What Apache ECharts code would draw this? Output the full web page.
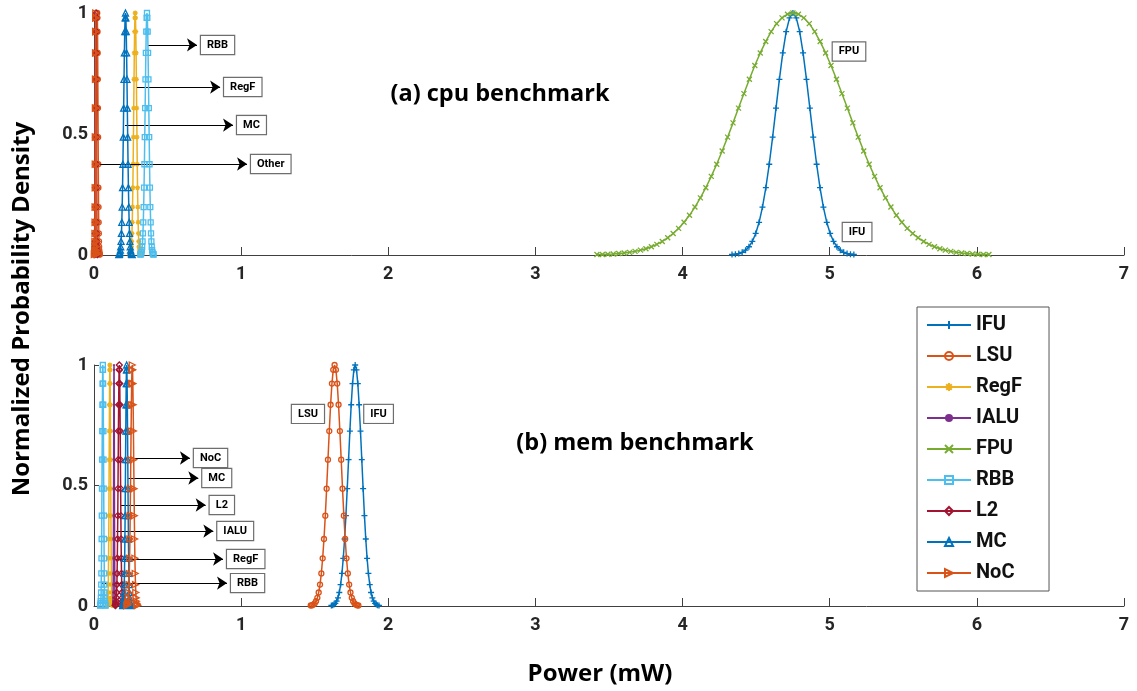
<!DOCTYPE html>
<html><head><meta charset="utf-8">
<script src="https://cdn.jsdelivr.net/npm/echarts@6/dist/echarts.min.js"></script>
<style>html,body{margin:0;padding:0;background:#fff}#c{width:1137px;height:691px}</style>
</head><body><div id="c"></div>
<script>
// ---------- data ----------
const LEGEND_NAMES = ['IFU','LSU','RegF','IALU','FPU','RBB','L2','MC','NoC'];
const X_MIN = 0, X_MAX = 7, X_STEP = 1;
const Y_MIN = 0, Y_MAX = 1, Y_STEP = 0.5;

// normalized density profiles (37 and 73 samples)
const PROFILE37 = [0.002,0.003,0.006,0.011,0.020,0.034,0.056,0.089,0.135,0.198,0.278,0.375,0.487,0.607,0.726,0.835,0.923,0.980,1.000,0.980,0.923,0.835,0.726,0.607,0.487,0.375,0.278,0.198,0.135,0.089,0.056,0.034,0.020,0.011,0.006,0.003,0.002];
const PROFILE73 = [0.002,0.002,0.003,0.004,0.006,0.008,0.011,0.015,0.020,0.026,0.034,0.044,0.056,0.071,0.089,0.110,0.135,0.164,0.198,0.236,0.278,0.325,0.375,0.430,0.487,0.546,0.607,0.667,0.726,0.783,0.835,0.882,0.923,0.956,0.980,0.995,1.000,0.995,0.980,0.956,0.923,0.882,0.835,0.783,0.726,0.667,0.607,0.546,0.487,0.430,0.375,0.325,0.278,0.236,0.198,0.164,0.135,0.110,0.089,0.071,0.056,0.044,0.034,0.026,0.020,0.015,0.011,0.008,0.006,0.004,0.003,0.002,0.002];

// (a) cpu benchmark – power samples (mW)
const cpuIFU_x = [4.336,4.359,4.382,4.405,4.428,4.451,4.474,4.497,4.520,4.543,4.566,4.589,4.612,4.635,4.658,4.681,4.704,4.727,4.750,4.773,4.796,4.819,4.842,4.865,4.888,4.911,4.934,4.957,4.980,5.003,5.026,5.049,5.072,5.095,5.118,5.141,5.164];
const cpuLSU_x = [0.004,0.005,0.006,0.007,0.008,0.009,0.010,0.011,0.012,0.013,0.014,0.015,0.016,0.017,0.018,0.019,0.020,0.021,0.022,0.023,0.024,0.025,0.026,0.027,0.028,0.029,0.030,0.031,0.032,0.033,0.034,0.035,0.036,0.037,0.038,0.039,0.040];
const cpuRegF_x = [0.244,0.246,0.248,0.250,0.252,0.254,0.256,0.258,0.260,0.262,0.264,0.266,0.268,0.270,0.272,0.274,0.276,0.278,0.280,0.282,0.284,0.286,0.288,0.290,0.292,0.294,0.296,0.298,0.300,0.302,0.304,0.306,0.308,0.310,0.312,0.314,0.316];
const cpuIALU_x = [0.001,0.0015,0.002,0.0025,0.003,0.0035,0.004,0.0045,0.005,0.0055,0.006,0.0065,0.007,0.0075,0.008,0.0085,0.009,0.0095,0.010,0.0105,0.011,0.0115,0.012,0.0125,0.013,0.0135,0.014,0.0145,0.015,0.0155,0.016,0.0165,0.017,0.0175,0.018,0.0185,0.019];
const cpuFPU_x = [3.418,3.455,3.492,3.529,3.566,3.603,3.640,3.677,3.714,3.751,3.788,3.825,3.862,3.899,3.936,3.973,4.010,4.047,4.084,4.121,4.158,4.195,4.232,4.269,4.306,4.343,4.380,4.417,4.454,4.491,4.528,4.565,4.602,4.639,4.676,4.713,4.750,4.787,4.824,4.861,4.898,4.935,4.972,5.009,5.046,5.083,5.120,5.157,5.194,5.231,5.268,5.305,5.342,5.379,5.416,5.453,5.490,5.527,5.564,5.601,5.638,5.675,5.712,5.749,5.786,5.823,5.860,5.897,5.934,5.971,6.008,6.045,6.082];
const cpuRBB_x = [0.315,0.3175,0.320,0.3225,0.325,0.3275,0.330,0.3325,0.335,0.3375,0.340,0.3425,0.345,0.3475,0.350,0.3525,0.355,0.3575,0.360,0.3625,0.365,0.3675,0.370,0.3725,0.375,0.3775,0.380,0.3825,0.385,0.3875,0.390,0.3925,0.395,0.3975,0.400,0.4025,0.405];
const cpuL2_x = [0.005,0.0055,0.006,0.0065,0.007,0.0075,0.008,0.0085,0.009,0.0095,0.010,0.0105,0.011,0.0115,0.012,0.0125,0.013,0.0135,0.014,0.0145,0.015,0.0155,0.016,0.0165,0.017,0.0175,0.018,0.0185,0.019,0.0195,0.020,0.0205,0.021,0.0215,0.022,0.0225,0.023];
const cpuMC_x = [0.169,0.1715,0.174,0.1765,0.179,0.1815,0.184,0.1865,0.189,0.1915,0.194,0.1965,0.199,0.2015,0.204,0.2065,0.209,0.2115,0.214,0.2165,0.219,0.2215,0.224,0.2265,0.229,0.2315,0.234,0.2365,0.239,0.2415,0.244,0.2465,0.249,0.2515,0.254,0.2565,0.259];
const cpuNoC_x = [0.003,0.0035,0.004,0.0045,0.005,0.0055,0.006,0.0065,0.007,0.0075,0.008,0.0085,0.009,0.0095,0.010,0.0105,0.011,0.0115,0.012,0.0125,0.013,0.0135,0.014,0.0145,0.015,0.0155,0.016,0.0165,0.017,0.0175,0.018,0.0185,0.019,0.0195,0.020,0.0205,0.021];

// (b) mem benchmark – power samples (mW)
const memIFU_x = [1.613,1.622,1.631,1.640,1.649,1.658,1.667,1.676,1.685,1.694,1.703,1.712,1.721,1.730,1.739,1.748,1.757,1.766,1.775,1.784,1.793,1.802,1.811,1.820,1.829,1.838,1.847,1.856,1.865,1.874,1.883,1.892,1.901,1.910,1.919,1.928,1.937];
const memLSU_x = [1.473,1.482,1.491,1.500,1.509,1.518,1.527,1.536,1.545,1.554,1.563,1.572,1.581,1.590,1.599,1.608,1.617,1.626,1.635,1.644,1.653,1.662,1.671,1.680,1.689,1.698,1.707,1.716,1.725,1.734,1.743,1.752,1.761,1.770,1.779,1.788,1.797];
const memRegF_x = [0.090,0.091,0.092,0.093,0.094,0.095,0.096,0.097,0.098,0.099,0.100,0.101,0.102,0.103,0.104,0.105,0.106,0.107,0.108,0.109,0.110,0.111,0.112,0.113,0.114,0.115,0.116,0.117,0.118,0.119,0.120,0.121,0.122,0.123,0.124,0.125,0.126];
const memIALU_x = [0.127,0.1275,0.128,0.1285,0.129,0.1295,0.130,0.1305,0.131,0.1315,0.132,0.1325,0.133,0.1335,0.134,0.1345,0.135,0.1355,0.136,0.1365,0.137,0.1375,0.138,0.1385,0.139,0.1395,0.140,0.1405,0.141,0.1415,0.142,0.1425,0.143,0.1435,0.144,0.1445,0.145];
const memRBB_x = [0.042,0.043,0.044,0.045,0.046,0.047,0.048,0.049,0.050,0.051,0.052,0.053,0.054,0.055,0.056,0.057,0.058,0.059,0.060,0.061,0.062,0.063,0.064,0.065,0.066,0.067,0.068,0.069,0.070,0.071,0.072,0.073,0.074,0.075,0.076,0.077,0.078];
const memL2_x = [0.145,0.1465,0.148,0.1495,0.151,0.1525,0.154,0.1555,0.157,0.1585,0.160,0.1615,0.163,0.1645,0.166,0.1675,0.169,0.1705,0.172,0.1735,0.175,0.1765,0.178,0.1795,0.181,0.1825,0.184,0.1855,0.187,0.1885,0.190,0.1915,0.193,0.1945,0.196,0.1975,0.199];
const memMC_x = [0.195,0.1965,0.198,0.1995,0.201,0.2025,0.204,0.2055,0.207,0.2085,0.210,0.2115,0.213,0.2145,0.216,0.2175,0.219,0.2205,0.222,0.2235,0.225,0.2265,0.228,0.2295,0.231,0.2325,0.234,0.2355,0.237,0.2385,0.240,0.2415,0.243,0.2445,0.246,0.2475,0.249];
const memNoC_x = [0.224,0.226,0.228,0.230,0.232,0.234,0.236,0.238,0.240,0.242,0.244,0.246,0.248,0.250,0.252,0.254,0.256,0.258,0.260,0.262,0.264,0.266,0.268,0.270,0.272,0.274,0.276,0.278,0.280,0.282,0.284,0.286,0.288,0.290,0.292,0.294,0.296];

// annotation texts and anchors (data coordinates): [label, fromX, toX, y]
const CPU_ARROWS = [['RBB',0.367,0.70,0.868],['RegF',0.292,0.857,0.694],['MC',0.211,0.945,0.537],['Other',0.02,1.04,0.376]];
const MEM_ARROWS = [['NoC',0.263,0.652,0.614],['MC',0.233,0.709,0.531],['L2',0.177,0.759,0.419],['IALU',0.150,0.811,0.311],['RegF',0.104,0.877,0.195],['RBB',0.052,0.904,0.095]];
const CPU_TAGS = [['FPU',5.131,0.841],['IFU',5.186,0.095]];
const MEM_TAGS = [['LSU',1.454,0.797],['IFU',1.934,0.797]];

// ---------- styles ----------
const P_PLUS = 'path://M5,0L5,10M0,5L10,5';
const P_CROSS = 'path://M0,0L10,10M0,10L10,0';
const P_STAR = 'path://M5,0L5,10M0,5L10,5M1.5,1.5L8.5,8.5M1.5,8.5L8.5,1.5';
const STYLE = {
  IFU:  {color:'#0072BD', symbol:P_PLUS, size:6, hollow:true},
  LSU:  {color:'#D95319', symbol:'circle', size:5, hollow:true},
  RegF: {color:'#EDB120', symbol:P_STAR, size:5, hollow:true},
  IALU: {color:'#7E2F8E', symbol:'circle', size:2, hollow:false},
  FPU:  {color:'#77AC30', symbol:P_CROSS, size:5, hollow:true},
  RBB:  {color:'#4DBEEE', symbol:'rect', size:5, hollow:true},
  L2:   {color:'#A2142F', symbol:'diamond', size:6, hollow:true},
  MC:   {color:'#0072BD', symbol:'triangle', size:6, hollow:true},
  NoC:  {color:'#D95319', symbol:'triangle', size:6, hollow:true, rotate:-90}
};

const SERIES_DEF = [
  ['IFU',0,cpuIFU_x,PROFILE37],['LSU',0,cpuLSU_x,PROFILE37],['RegF',0,cpuRegF_x,PROFILE37],
  ['IALU',0,cpuIALU_x,PROFILE37],['FPU',0,cpuFPU_x,PROFILE73],['RBB',0,cpuRBB_x,PROFILE37],
  ['L2',0,cpuL2_x,PROFILE37],['MC',0,cpuMC_x,PROFILE37],['NoC',0,cpuNoC_x,PROFILE37],
  ['IFU',1,memIFU_x,PROFILE37],['LSU',1,memLSU_x,PROFILE37],['RegF',1,memRegF_x,PROFILE37],
  ['IALU',1,memIALU_x,PROFILE37],['RBB',1,memRBB_x,PROFILE37],
  ['L2',1,memL2_x,PROFILE37],['MC',1,memMC_x,PROFILE37],['NoC',1,memNoC_x,PROFILE37]
];

const boxLabel = {
  show:true, color:'#000', fontFamily:'Roboto', fontWeight:'bold', fontSize:11,
  backgroundColor:'#fff', borderColor:'#6e6e6e', borderWidth:1.2, padding:[4,6,3,6]
};

function arrowLine(list){
  return {
    silent:true, animation:false, symbol:['none','arrow'], symbolSize:10, precision:4,
    lineStyle:{color:'#000', width:1, type:'solid', opacity:1},
    label:Object.assign({position:'end', distance:4, formatter:'{b}'}, boxLabel),
    emphasis:{disabled:true},
    data:list.map(a=>[
      {coord:[a[1],a[3]], name:a[0], symbol:'none', lineStyle:{color:'#000'}, itemStyle:{color:'#000'}},
      {coord:[a[2],a[3]], symbol:'arrow', symbolSize:10, itemStyle:{color:'#000'}}
    ])
  };
}
function tagPoints(list){
  return {
    silent:true, animation:false, symbol:'rect', symbolSize:1,
    itemStyle:{color:'rgba(0,0,0,0)'},
    label:Object.assign({position:'inside', formatter:'{b}'}, boxLabel),
    emphasis:{disabled:true},
    data:list.map(t=>({coord:[t[1],t[2]], name:t[0], value:t[0]}))
  };
}

const series = SERIES_DEF.map((d, k)=>{
  const st = STYLE[d[0]];
  return {
    type:'line', name:d[0], xAxisIndex:d[1], yAxisIndex:d[1],
    data:d[2].map((x,i)=>[x, d[3][i]]),
    symbol:st.symbol, symbolSize:st.size, symbolRotate:st.rotate||0,
    showSymbol:true, showAllSymbol:true, animation:false, clip:true,
    lineStyle:{color:st.color, width:1.5},
    itemStyle: st.hollow ? {color:'rgba(255,255,255,0)', borderColor:st.color, borderWidth:1.3}
                         : {color:st.color},
    emphasis:{disabled:true}, z:2+k
  };
});
// dedicated carrier series for annotations (black, on top)
function carrier(g, arrows, tags){
  return {type:'line', name:'_ann'+g, xAxisIndex:g, yAxisIndex:g, data:[],
    color:'#000', itemStyle:{color:'#000'}, lineStyle:{color:'#000'}, z:50,
    markLine:arrowLine(arrows), markPoint:tagPoints(tags)};
}
series.push(carrier(0, CPU_ARROWS, CPU_TAGS));
series.push(carrier(1, MEM_ARROWS, MEM_TAGS));

const axisColor = '#404040';
const tickFont = {fontFamily:'Roboto', fontWeight:'bold', fontSize:18, color:'#262626'};
function xAx(i){
  return {type:'value', gridIndex:i, min:X_MIN, max:X_MAX, interval:X_STEP,
    axisLine:{show:true, onZero:false, lineStyle:{color:axisColor, width:1}},
    axisTick:{show:true, inside:true, length:8, lineStyle:{color:axisColor}},
    axisLabel:Object.assign({margin:10}, tickFont), splitLine:{show:false}};
}
function yAx(i){
  return {type:'value', gridIndex:i, min:Y_MIN, max:Y_MAX, interval:Y_STEP,
    axisLine:{show:true, onZero:false, lineStyle:{color:axisColor, width:1}},
    axisTick:{show:true, inside:true, length:5, lineStyle:{color:axisColor}},
    axisLabel:Object.assign({margin:6}, tickFont), splitLine:{show:false}};
}

const chart = echarts.init(document.getElementById('c'), null, {renderer:'canvas'});
chart.setOption({
  animation:false,
  backgroundColor:'#fff',
  grid:[
    {left:94, top:13, width:1030, height:242},
    {left:94, top:365, width:1030, height:241}
  ],
  xAxis:[xAx(0), xAx(1)],
  yAxis:[yAx(0), yAx(1)],
  legend:{
    data:LEGEND_NAMES, orient:'vertical', left:917, top:307,
    itemWidth:44, itemHeight:10, itemGap:11, padding:[8,27,8,9],
    borderColor:'#555', borderWidth:1, backgroundColor:'#fff',
    selectedMode:false,
    textStyle:{fontFamily:'Roboto', fontWeight:'bold', fontSize:20, lineHeight:20, color:'#111'}
  },
  graphic:[
    {type:'text', x:500, y:94, style:{text:'(a) cpu benchmark', fontFamily:'Open Sans', fontWeight:'bold', fontSize:23.5, fill:'#000', align:'center', verticalAlign:'middle'}},
    {type:'text', x:635, y:443, style:{text:'(b) mem benchmark', fontFamily:'Open Sans', fontWeight:'bold', fontSize:23.5, fill:'#000', align:'center', verticalAlign:'middle'}},
    {type:'text', x:600, y:674, style:{text:'Power (mW)', fontFamily:'Open Sans', fontWeight:'bold', fontSize:24, fill:'#000', align:'center', verticalAlign:'middle'}},
    {type:'text', x:22, y:309, rotation:Math.PI/2, style:{text:'Normalized Probability Density', fontFamily:'Open Sans', fontWeight:'bold', fontSize:24, fill:'#000', align:'center', verticalAlign:'middle'}}
  ],
  series:series
});
</script></body></html>
